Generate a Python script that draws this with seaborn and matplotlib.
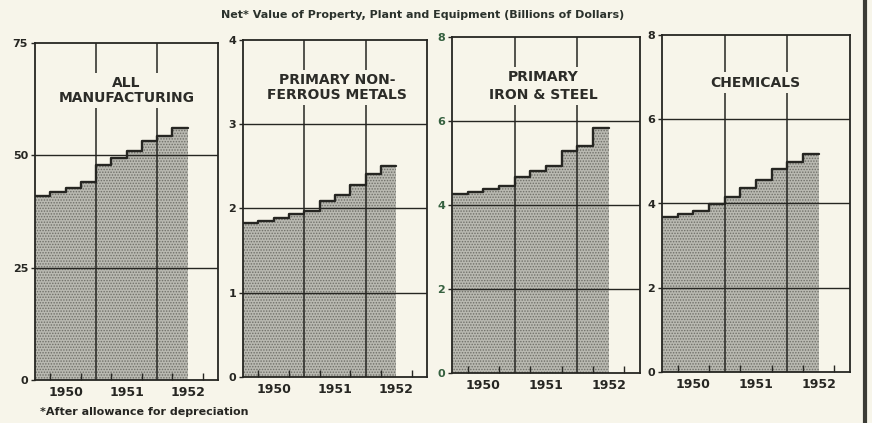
import numpy as np
import pandas as pd
import matplotlib
matplotlib.use("Agg")
import matplotlib.pyplot as plt
import seaborn as sns
from matplotlib.lines import Line2D

# Quarterly net value of property, plant and equipment (billions of dollars)
quarters = ["1950 Q1", "1950 Q2", "1950 Q3", "1950 Q4",
            "1951 Q1", "1951 Q2", "1951 Q3", "1951 Q4",
            "1952 Q1", "1952 Q2"]
year_labels = ["1950", "1951", "1952"]

all_manufacturing = [40.9, 41.8, 42.7, 44.0, 47.8, 49.4, 51.0, 53.1, 54.4, 56.1]
nonferrous_metals = [1.83, 1.85, 1.89, 1.93, 1.97, 2.09, 2.16, 2.28, 2.41, 2.50]
iron_steel = [4.25, 4.30, 4.38, 4.46, 4.66, 4.81, 4.92, 5.29, 5.41, 5.84]
chemicals = [3.68, 3.75, 3.82, 3.98, 4.16, 4.36, 4.56, 4.83, 4.99, 5.17]

panel_titles = ["ALL\nMANUFACTURING", "PRIMARY NON-\nFERROUS METALS",
                "PRIMARY\nIRON & STEEL", "CHEMICALS"]
panel_series = [all_manufacturing, nonferrous_metals, iron_steel, chemicals]
y_limits = [75, 4, 8, 8]
y_ticks = [[0, 25, 50, 75], [0, 1, 2, 3, 4], [0, 2, 4, 6, 8], [0, 2, 4, 6, 8]]

title_text = "Net* Value of Property, Plant and Equipment (Billions of Dollars)"
footnote_text = "*After allowance for depreciation"

paper = "#f7f5ea"
ink = "#262622"
fill_color = "#b9b9b1"

sns.set_theme(style="white")
plt.rcParams["font.family"] = ["DejaVu Sans"]
plt.rcParams["hatch.linewidth"] = 0.7

fig = plt.figure(figsize=(8.72, 4.23), dpi=100, facecolor=paper)

W, H = 872.0, 423.0
# left, right, top, bottom in pixels for each panel
boxes = [(35, 218, 43, 380), (243, 427, 40, 377),
         (452, 640, 37, 373), (662, 850, 35, 372)]
title_pos = [(0.50, 0.859, 1.08), (0.51, 0.859, 1.08),
             (0.484, 0.854, 1.3), (0.495, 0.858, 1.1)]
tick_colors = [ink, ink, "#35603f", ink]

n_q = len(quarters)
n_span = 4 * len(year_labels)

for i, (vals, box) in enumerate(zip(panel_series, boxes)):
    l, r, t, b = box
    ax = fig.add_axes([l / W, 1 - b / H, (r - l) / W, (b - t) / H])
    ax.set_facecolor(paper)
    ax.set_axisbelow(False)

    x = np.arange(n_q + 1)
    y = list(vals) + [vals[-1]]
    df = pd.DataFrame({"q": x, "value": y})

    ax.fill_between(df["q"], 0, df["value"], step="post",
                    facecolor=fill_color, edgecolor="#6f6f68",
                    hatch="......", linewidth=0, zorder=1)

    # year-boundary and value gridlines
    for yr in range(1, len(year_labels)):
        ax.axvline(4 * yr, color=ink, lw=1.1, zorder=2)
    for v in y_ticks[i][1:-1]:
        ax.axhline(v, color=ink, lw=1.0, zorder=2)

    sns.lineplot(data=df, x="q", y="value", drawstyle="steps-post",
                 color=ink, lw=1.7, ax=ax, zorder=3)

    ax.set_xlim(0, n_span)
    ax.set_ylim(0, y_limits[i])
    ax.set_xlabel("")
    ax.set_ylabel("")

    ax.set_xticks([2 + 4 * k for k in range(len(year_labels))])
    ax.set_xticklabels(year_labels)
    ax.set_xticks([q for q in range(1, n_span) if q % 4 != 0], minor=True)
    ax.tick_params(axis="x", which="major", length=0, pad=4,
                   labelsize=9, labelcolor=ink)
    ax.tick_params(axis="x", which="minor", direction="in", length=5,
                   width=1.0, color=ink, bottom=True)
    for lab in ax.get_xticklabels():
        lab.set_fontweight("bold")

    ax.set_yticks(y_ticks[i])
    ax.set_yticklabels([str(v) for v in y_ticks[i]])
    ax.tick_params(axis="y", which="major", direction="out", length=3,
                   width=1.0, color=ink, pad=2, labelsize=8,
                   labelcolor=tick_colors[i], left=True)
    for lab in ax.get_yticklabels():
        lab.set_fontweight("bold")

    for sp in ax.spines.values():
        sp.set_color(ink)
        sp.set_linewidth(1.3)
        sp.set_visible(True)

    tx, ty, ls = title_pos[i]
    ax.text(tx, ty, panel_titles[i], transform=ax.transAxes, ha="center",
            va="center", fontsize=10, fontweight="bold", color="#2c2c28",
            linespacing=ls, zorder=4,
            bbox=dict(boxstyle="square,pad=0.25", facecolor=paper,
                      edgecolor="none"))

fig.text(423 / W, 1 - 15 / H, title_text, ha="center", va="center",
         fontsize=8, fontweight="bold", color="#2b322c")
fig.text(40 / W, 1 - 412 / H, footnote_text, ha="left", va="center",
         fontsize=8, fontweight="bold", color=ink)

# dark edge of the page at the right
fig.add_artist(Line2D([865 / W, 865 / W], [0, 1], transform=fig.transFigure,
                      color="#3c3c36", lw=3))

fig.savefig("out.png", dpi=100, facecolor=paper)
